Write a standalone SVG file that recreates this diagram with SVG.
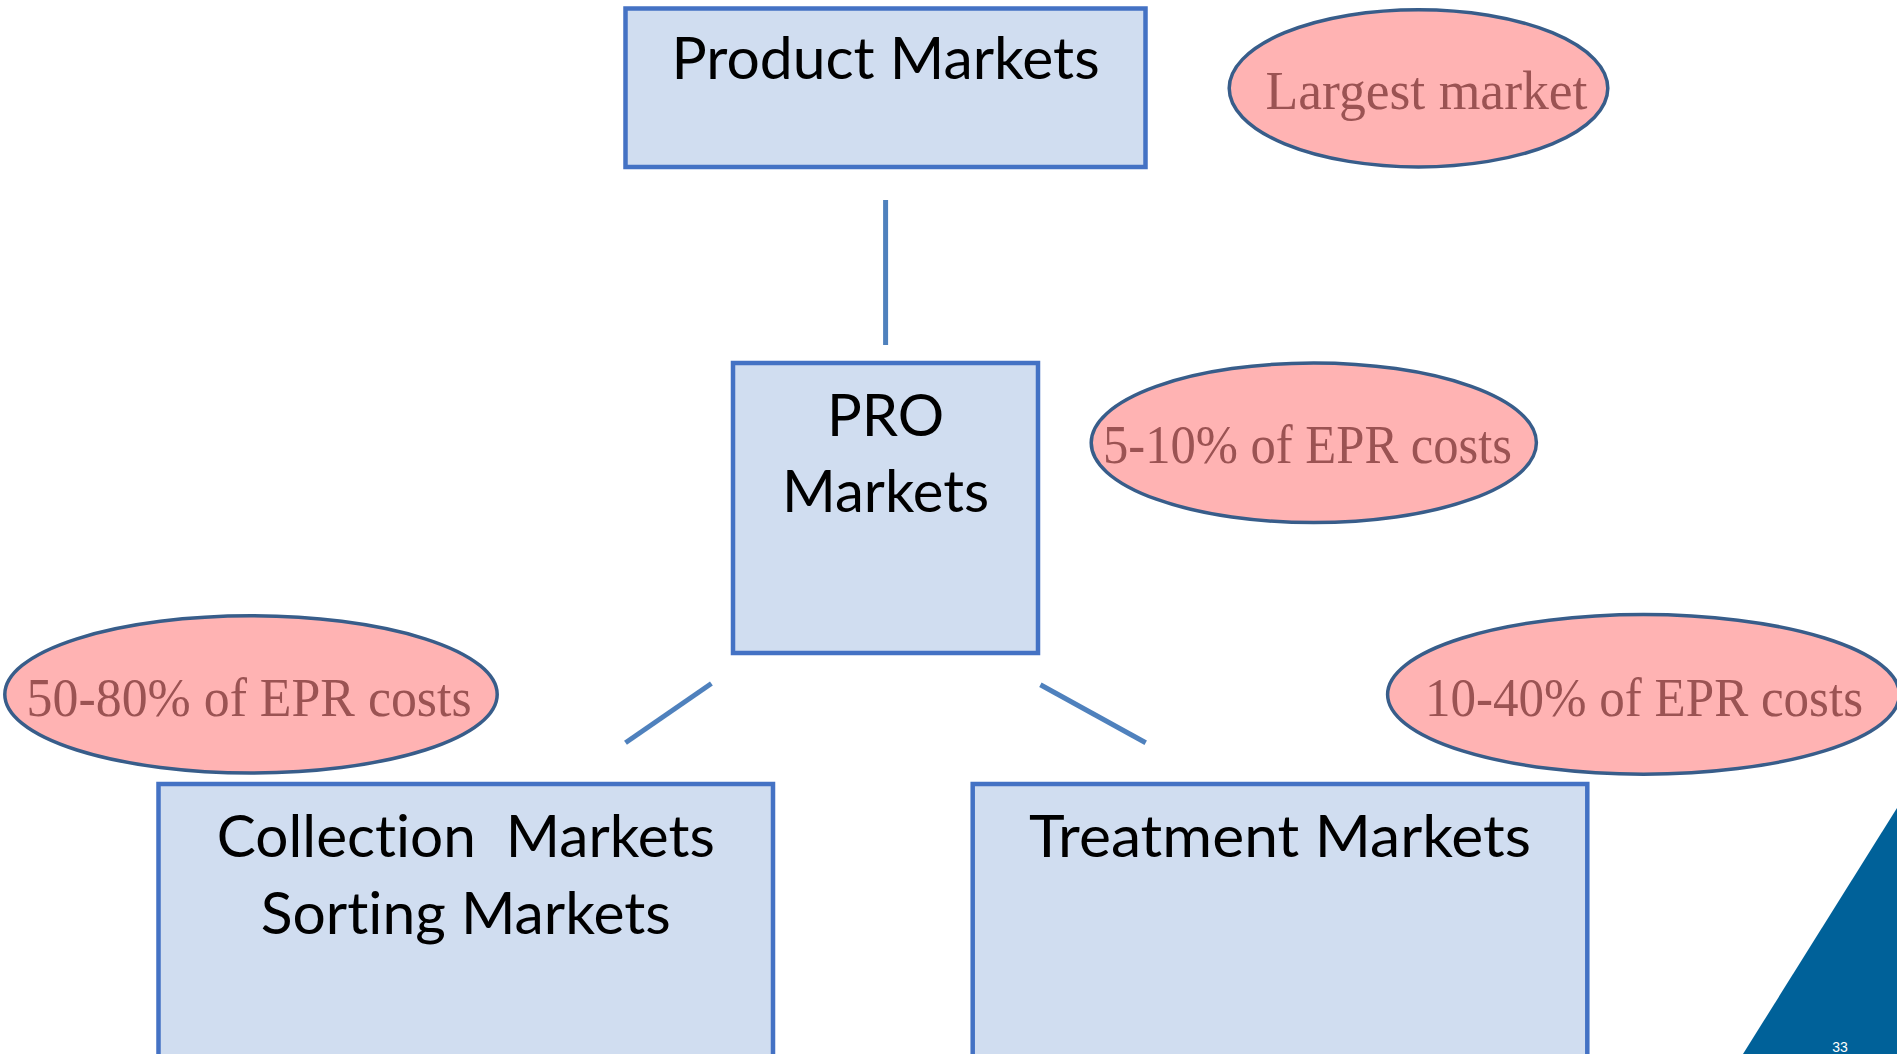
<svg xmlns="http://www.w3.org/2000/svg" width="1897" height="1054" viewBox="0 0 1897 1054">
<style>
.box{fill:#D0DDF0;stroke:#4472C4;stroke-width:4.5}
.oval{fill:#FFB3B3;stroke:#385D8A;stroke-width:3.5}
.bt{font-family:Lato,"Open Sans",sans-serif;font-size:58px;fill:#000;text-anchor:middle;font-variant-ligatures:none}
.ot{font-family:"Liberation Serif",serif;font-size:54px;fill:#9B5353}
.conn{stroke:#4F81BD;stroke-width:5;fill:none}
</style>
<rect width="1897" height="1054" fill="#fff"/>
<g id="connectors">
<line class="conn" x1="885.6" y1="200" x2="885.6" y2="345"/>
<line class="conn" x1="711.4" y1="683.5" x2="625.5" y2="742.8"/>
<line class="conn" x1="1040.4" y1="684.7" x2="1145.7" y2="742.8"/>
</g>
<g id="product">
<rect class="box" x="625.5" y="8.5" width="520" height="158.5"/>
<text class="bt" x="885.6" y="78.6" textLength="428" lengthAdjust="spacingAndGlyphs">Product Markets</text>
</g>
<g id="pro">
<rect class="box" x="733" y="363" width="305" height="290"/>
<text class="bt" x="885.6" y="435.5">PRO</text>
<text class="bt" x="885.6" y="511.7">Markets</text>
</g>
<g id="collection">
<rect class="box" x="158.5" y="784" width="614.5" height="275"/>
<text class="bt" x="465.8" y="856.5" textLength="498" lengthAdjust="spacingAndGlyphs" xml:space="preserve">Collection  Markets</text>
<text class="bt" x="465.8" y="934" textLength="410" lengthAdjust="spacingAndGlyphs">Sorting Markets</text>
</g>
<g id="treatment">
<rect class="box" x="972.7" y="784" width="614.6" height="275"/>
<text class="bt" x="1280" y="856.5" textLength="502" lengthAdjust="spacingAndGlyphs">Treatment Markets</text>
</g>
<g id="largest">
<ellipse class="oval" cx="1418.5" cy="88.3" rx="189.3" ry="78.6"/>
<text class="ot" x="1265.5" y="108.9" textLength="322" lengthAdjust="spacingAndGlyphs">Largest market</text>
</g>
<g id="pro-cost">
<ellipse class="oval" cx="1313.8" cy="442.8" rx="222.6" ry="79.8"/>
<text class="ot" x="1103" y="463.4" textLength="409" lengthAdjust="spacingAndGlyphs">5-10% of EPR costs</text>
</g>
<g id="collection-cost">
<ellipse class="oval" cx="251" cy="694.4" rx="246.2" ry="78.6"/>
<text class="ot" x="26.6" y="716.2" textLength="445" lengthAdjust="spacingAndGlyphs">50-80% of EPR costs</text>
</g>
<g id="treatment-cost">
<ellipse class="oval" cx="1643.5" cy="694.4" rx="255.9" ry="79.8"/>
<text class="ot" x="1425" y="716.2" textLength="438" lengthAdjust="spacingAndGlyphs">10-40% of EPR costs</text>
</g>
<polygon points="1897,808 1743,1054 1897,1054" fill="#006199"/>
<text x="1840" y="1052" font-family="Liberation Sans,sans-serif" font-size="14" fill="#fff" text-anchor="middle">33</text>
</svg>
